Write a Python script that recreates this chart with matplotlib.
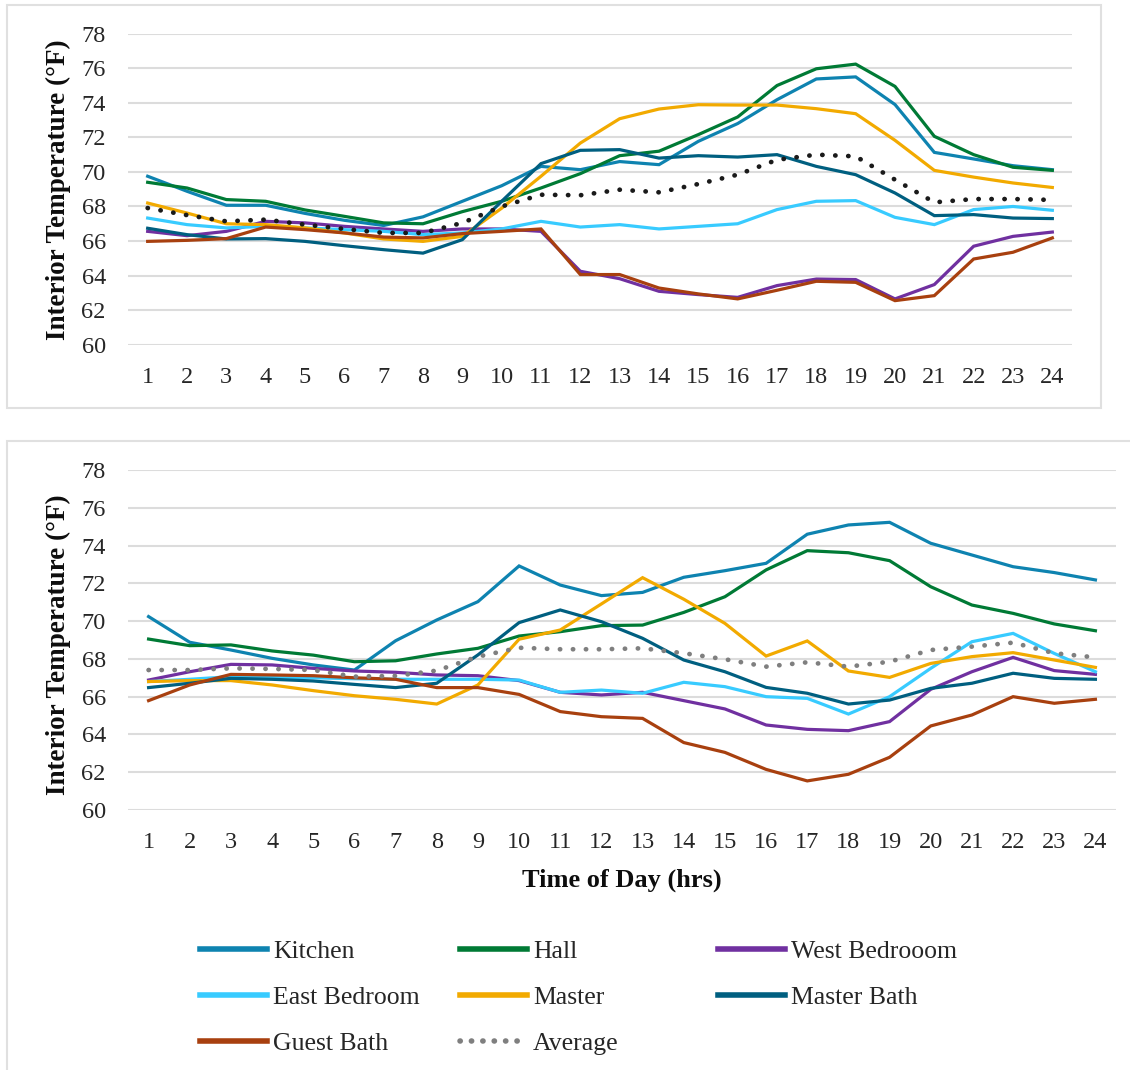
import matplotlib
matplotlib.use("Agg")
import matplotlib.pyplot as plt
from matplotlib.lines import Line2D
from matplotlib.patches import Rectangle

plt.rcParams["font.family"] = ["Liberation Serif", "DejaVu Serif"]

hours = list(range(1, 25))
rooms = ["Kitchen", "Hall", "West Bedrooom", "East Bedroom", "Master", "Master Bath", "Guest Bath", "Average"]

# upper chart
top_kitchen = [69.75, 68.88, 68.07, 68.07, 67.6, 67.2, 66.9, 67.4, 68.3, 69.2, 70.32, 70.13, 70.6, 70.42,
               71.77, 72.8, 74.18, 75.38, 75.5, 73.9, 71.13, 70.75, 70.36, 70.13]
top_hall = [69.4, 69.07, 68.4, 68.3, 67.8, 67.43, 67.05, 67.0, 67.7, 68.3, 69.07, 69.9, 70.94, 71.2,
            72.16, 73.18, 75.0, 75.97, 76.24, 74.95, 72.06, 71.0, 70.27, 70.09]
top_west = [66.56, 66.31, 66.56, 67.14, 67.05, 66.85, 66.7, 66.56, 66.7, 66.7, 66.56, 64.25, 63.82, 63.09,
            62.9, 62.74, 63.42, 63.8, 63.77, 62.65, 63.48, 65.7, 66.27, 66.52]
top_east = [67.33, 66.95, 66.76, 66.85, 66.76, 66.66, 66.56, 66.37, 66.47, 66.7, 67.14, 66.81, 66.95, 66.7,
            66.85, 67.0, 67.82, 68.3, 68.34, 67.37, 66.95, 67.82, 68.0, 67.78]
top_master = [68.2, 67.62, 67.0, 66.95, 66.76, 66.47, 66.12, 65.98, 66.27, 67.9, 69.75, 71.67, 73.08, 73.64,
              73.89, 73.87, 73.87, 73.66, 73.37, 71.83, 70.09, 69.7, 69.36, 69.1]
top_mbath = [66.74, 66.37, 66.12, 66.14, 65.98, 65.73, 65.5, 65.3, 66.08, 68.3, 70.48, 71.25, 71.29, 70.8,
             70.94, 70.86, 71.0, 70.32, 69.84, 68.78, 67.47, 67.53, 67.33, 67.3]
top_guest = [65.98, 66.04, 66.14, 66.81, 66.66, 66.47, 66.23, 66.18, 66.43, 66.56, 66.7, 64.06, 64.06, 63.28,
             62.94, 62.65, 63.15, 63.67, 63.61, 62.55, 62.84, 64.96, 65.35, 66.18]
top_avg = [67.91, 67.5, 67.14, 67.24, 66.95, 66.7, 66.47, 66.47, 67.05, 68.0, 68.68, 68.65, 68.97, 68.82,
           69.3, 69.84, 70.7, 71.0, 70.9, 69.55, 68.24, 68.43, 68.43, 68.38]

# lower chart
bot_kitchen = [70.24, 68.88, 68.47, 68.03, 67.68, 67.41, 68.96, 70.06, 71.03, 72.92, 71.91, 71.35, 71.52, 72.32,
               72.67, 73.06, 74.6, 75.09, 75.23, 74.12, 73.5, 72.88, 72.57, 72.18]
bot_hall = [69.05, 68.7, 68.74, 68.42, 68.2, 67.85, 67.9, 68.26, 68.56, 69.21, 69.44, 69.76, 69.79, 70.46,
            71.29, 72.71, 73.73, 73.62, 73.2, 71.82, 70.85, 70.41, 69.85, 69.49]
bot_west = [66.88, 67.32, 67.71, 67.68, 67.5, 67.36, 67.29, 67.15, 67.11, 66.85, 66.23, 66.09, 66.23, 65.79,
            65.35, 64.5, 64.27, 64.2, 64.68, 66.39, 67.32, 68.08, 67.38, 67.18]
bot_east = [66.8, 66.92, 67.06, 67.02, 67.0, 66.95, 66.92, 66.92, 66.92, 66.88, 66.23, 66.35, 66.18, 66.76,
            66.53, 66.0, 65.91, 65.08, 66.0, 67.5, 68.91, 69.35, 68.29, 67.32]
bot_master = [66.8, 66.85, 66.85, 66.62, 66.32, 66.05, 65.86, 65.61, 66.62, 69.04, 69.53, 70.91, 72.3, 71.16,
              69.88, 68.15, 68.95, 67.36, 67.02, 67.76, 68.12, 68.33, 67.94, 67.55]
bot_mbath = [66.48, 66.71, 66.97, 66.92, 66.83, 66.65, 66.48, 66.71, 68.21, 69.92, 70.59, 69.97, 69.09, 67.94,
             67.32, 66.49, 66.18, 65.61, 65.82, 66.44, 66.71, 67.24, 66.97, 66.92]
bot_guest = [65.79, 66.62, 67.18, 67.15, 67.11, 67.0, 66.92, 66.48, 66.48, 66.12, 65.21, 64.94, 64.85, 63.57,
             63.05, 62.15, 61.54, 61.89, 62.79, 64.45, 65.03, 66.0, 65.65, 65.86]
bot_avg = [67.41, 67.41, 67.5, 67.47, 67.41, 67.06, 67.1, 67.38, 68.12, 68.59, 68.51, 68.51, 68.56, 68.3,
           67.98, 67.59, 67.82, 67.59, 67.85, 68.47, 68.65, 68.86, 68.3, 68.08]

top_series = [top_kitchen, top_hall, top_west, top_east, top_master, top_mbath, top_guest, top_avg]
bot_series = [bot_kitchen, bot_hall, bot_west, bot_east, bot_master, bot_mbath, bot_guest, bot_avg]

COLORS = ["#0E83B0", "#007A35", "#7030A0", "#38CBFF", "#F2AA00", "#005F80", "#A8400F"]
GRID = "#DCDCDC"
FS = 17

W, H = 1130, 1070
fig = plt.figure(figsize=(W / 100, H / 100), dpi=100)

# chart frames
fig.add_artist(Rectangle((7 / W, 1 - 408 / H), (1101 - 7) / W, (408 - 5) / H, transform=fig.transFigure,
                         fill=False, edgecolor="#E0E0E0", lw=1.5))
fig.add_artist(Rectangle((7 / W, -0.05), 1.2, 1 - 441 / H + 0.05, transform=fig.transFigure,
                         fill=False, edgecolor="#E0E0E0", lw=1.5))

ax1 = fig.add_axes([128 / W, 1 - 344.7 / H, (1072 - 128) / W, (344.7 - 33.7) / H])
ax2 = fig.add_axes([128 / W, 1 - 810 / H, (1116 - 128) / W, (810 - 470) / H])


def draw(ax, series, avg_color):
    for vals, c in zip(series[:-1], COLORS):
        ax.plot(hours, vals, color=c, lw=2.3, solid_joinstyle="miter")
    ax.plot(hours, series[-1], color=avg_color, lw=3.4, linestyle=(0, (0.05, 2.7)),
            dash_capstyle="round")
    ax.set_xlim(0.5, 24.5)
    ax.set_ylim(60, 78)
    ax.set_yticks(range(60, 79, 2))
    ax.set_xticks(hours)
    ax.grid(axis="y", color=GRID, lw=1.5)
    ax.set_axisbelow(True)
    for s in ax.spines.values():
        s.set_visible(False)
    ax.tick_params(length=0, labelsize=FS + 0.5, colors="#262626")
    ax.tick_params(axis="x", pad=16)
    ax.tick_params(axis="y", pad=16)


draw(ax1, top_series, "#1A1A1A")
draw(ax2, bot_series, "#7F7F7F")

for cy in [1 - 190 / H, 1 - 645 / H]:
    fig.text(58 / W, cy, "Interior Temperature (°F)", rotation=90, ha="center", va="center",
             fontsize=FS + 2.5, fontweight="bold", color="#0D0D0D")

fig.text(622 / W, 1 - 880 / H, "Time of Day (hrs)", ha="center", va="center",
         fontsize=FS + 2, fontweight="bold", color="#0D0D0D")

# legend, three columns laid out like the source
handles = [Line2D([], [], color=c, lw=4) for c in COLORS]
handles.append(Line2D([], [], color="#7F7F7F", lw=4, linestyle=(0, (0.05, 2.0)), dash_capstyle="round"))
cols = [[0, 3, 6], [1, 4, 7], [2, 5]]
col_x = [200, 460, 718]
for idx, x in zip(cols, col_x):
    fig.legend([handles[i] for i in idx], [rooms[i] for i in idx], loc="upper left",
               bbox_to_anchor=(x / W, 1 - 940 / H), frameon=False, fontsize=FS + 1.5,
               handlelength=2.6, handletextpad=0.25, labelspacing=0.9, borderpad=0,
               borderaxespad=0, labelcolor="#262626")

fig.savefig("out.png", dpi=100, facecolor="white")
